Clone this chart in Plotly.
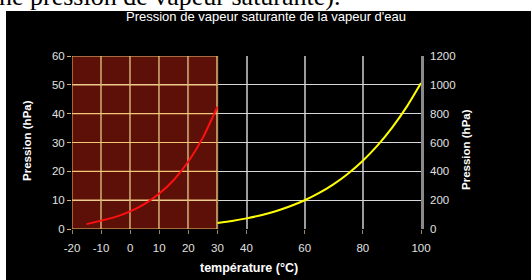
import plotly.graph_objects as go

# ---- data ----
temp_cold = [-15, -10, -5, 0, 5, 10, 15, 20, 25, 30]
p_cold = [1.7, 2.9, 4.2, 6.1, 8.7, 12.3, 17.0, 23.4, 31.7, 42.4]
temp_hot = [30, 35, 40, 45, 50, 55, 60, 65, 70, 75, 80, 85, 90, 95, 100]
p_hot = [42.4, 56.2, 73.8, 95.9, 123.4, 157.4, 199.3, 250.1, 311.8, 385.6,
         473.7, 578.1, 701.1, 845.3, 1013.0]
x_ticks = [-20, -10, 0, 10, 20, 30, 40, 60, 80, 100]
x_ticklabels = ["-20", "-10", "0", "10", "20", "30", "40", "60", "80", "100"]
y_left_ticks = [0, 10, 20, 30, 40, 50, 60]
y_right_ticks = [0, 200, 400, 600, 800, 1000, 1200]
cold_zone = [-20, 30]

title = "Pression de vapeur saturante de la vapeur d'eau"
y_title = "Pression (hPa)"
x_title = "température (°C)"
doc_text = "ne pression de vapeur saturante)."

# ---- layout geometry (pixels) ----
W, H = 531, 280
L, R, T, B = 72, 110, 56, 51
PW, PH = W - L - R, H - T - B


def px_x(px):
    return (px - L) / PW


def px_y(py):
    return (H - B - py) / PH


FONT = "Liberation Sans, Arial, sans-serif"
fig = go.Figure()

fig.add_trace(go.Scatter(x=temp_cold, y=p_cold, mode="lines",
                         line=dict(color="#ff1010", width=2, shape="spline",
                                   smoothing=0.6),
                         yaxis="y", showlegend=False, hoverinfo="skip"))
fig.add_trace(go.Scatter(x=temp_hot, y=p_hot, mode="lines",
                         line=dict(color="#ffff00", width=2, shape="spline",
                                   smoothing=0.6),
                         yaxis="y2", showlegend=False, hoverinfo="skip"))

shapes = []
# white document strips (page around the black chart)
shapes.append(dict(type="rect", xref="paper", yref="paper",
                   x0=px_x(-5), x1=px_x(W + 5), y0=px_y(11), y1=px_y(-5),
                   fillcolor="white", line=dict(width=0), layer="below"))
shapes.append(dict(type="rect", xref="paper", yref="paper",
                   x0=px_x(-5), x1=px_x(6), y0=px_y(H + 5), y1=px_y(-5),
                   fillcolor="white", line=dict(width=0), layer="below"))
# dark red cold zone
shapes.append(dict(type="rect", xref="x", yref="paper",
                   x0=cold_zone[0], x1=cold_zone[1], y0=0, y1=1,
                   fillcolor="#5c1008", line=dict(width=0), layer="below"))
# tinted grid lines inside the cold zone
for xv in x_ticks:
    if cold_zone[0] <= xv <= cold_zone[1]:
        shapes.append(dict(type="line", xref="x", yref="y",
                           x0=xv, x1=xv, y0=y_left_ticks[0], y1=y_left_ticks[-1],
                           line=dict(color="#c08040", width=1.5),
                           layer="between"))
for yv in y_left_ticks:
    shapes.append(dict(type="line", xref="x", yref="y",
                       x0=cold_zone[0], x1=cold_zone[1], y0=yv, y1=yv,
                       line=dict(color="#f0c878", width=1.2),
                       layer="between"))

annotations = [
    dict(text=title, xref="paper", yref="paper", x=px_x(266), y=px_y(17),
         showarrow=False, font=dict(family=FONT, size=13, color="white"),
         xanchor="center", yanchor="middle"),
    dict(text="<b>" + y_title + "</b>", xref="paper", yref="paper",
         x=px_x(27), y=px_y(141), textangle=-90, showarrow=False,
         font=dict(family=FONT, size=11.5, color="white"),
         xanchor="center", yanchor="middle"),
    dict(text="<b>" + y_title + "</b>", xref="paper", yref="paper",
         x=px_x(466), y=px_y(150), textangle=-90, showarrow=False,
         font=dict(family=FONT, size=11.5, color="white"),
         xanchor="center", yanchor="middle"),
    dict(text="<b>" + x_title + "</b>", xref="paper", yref="paper",
         x=px_x(249), y=px_y(268), showarrow=False,
         font=dict(family=FONT, size=12.5, color="white"),
         xanchor="center", yanchor="middle"),
    dict(text=doc_text, xref="paper", yref="paper",
         x=px_x(-3), y=px_y(-3.5), showarrow=False,
         font=dict(family="Liberation Serif, Times New Roman, serif", size=26,
                   color="black"),
         xanchor="left", yanchor="middle"),
]

fig.update_layout(
    width=W, height=H,
    margin=dict(l=L, r=R, t=T, b=B, pad=0),
    paper_bgcolor="black", plot_bgcolor="black",
    shapes=shapes, annotations=annotations,
    xaxis=dict(range=[x_ticks[0], x_ticks[-1]], tickmode="array",
               tickvals=x_ticks, ticktext=x_ticklabels,
               showgrid=True, gridcolor="#9c9c9c", gridwidth=1.5,
               zeroline=False, showline=False,
               ticks="outside", ticklen=4, tickcolor="#a08060",
               ticklabelstandoff=4,
               tickfont=dict(family=FONT, size=11.5, color="#e0e0e0")),
    yaxis=dict(range=[y_left_ticks[0], y_left_ticks[-1]], tickmode="array",
               tickvals=y_left_ticks, showgrid=True, gridcolor="#d8d8d8",
               gridwidth=1.2, zeroline=False, showline=False,
               ticks="outside", ticklen=4, tickcolor="#d0b080",
               tickfont=dict(family=FONT, size=11.5, color="#e0e0e0")),
    yaxis2=dict(range=[y_right_ticks[0], y_right_ticks[-1]], tickmode="array",
                tickvals=y_right_ticks, overlaying="y", side="right",
                showgrid=False, zeroline=False, showline=True,
                linecolor="#8a8a8a", linewidth=2.5, ticks="",
                ticklabelstandoff=4,
                tickfont=dict(family=FONT, size=11.5, color="#e0e0e0")),
)

fig.write_html(
    "out.html",
    config={"displayModeBar": False},
    post_script="document.body.style.margin='0';document.body.style.padding='0';",
)
